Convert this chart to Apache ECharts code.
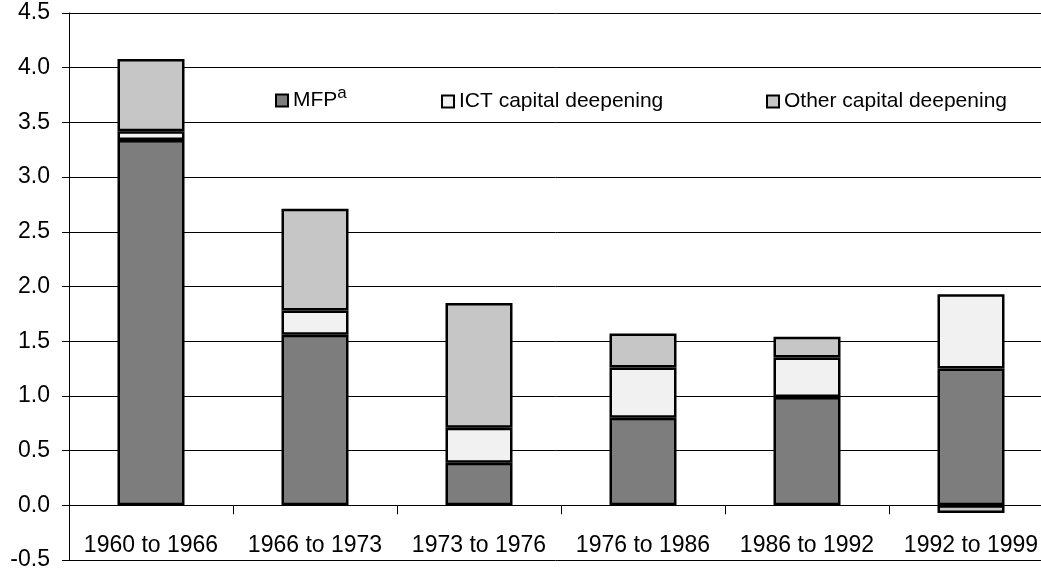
<!DOCTYPE html>
<html>
<head>
<meta charset="utf-8">
<script src="https://cdn.jsdelivr.net/npm/echarts@6/dist/echarts.min.js"></script>
<style>
  html, body { margin: 0; padding: 0; background: #fff; }
  #chart { width: 1041px; height: 571px; }
</style>
</head>
<body>
<div id="chart"></div>
<script>
// periods on the x axis
var periods = ["1960 to 1966", "1966 to 1973", "1973 to 1976", "1976 to 1986", "1986 to 1992", "1992 to 1999"];
// contributions
var mfp = [3.34, 1.56, 0.39, 0.80, 0.99, 1.25];
var ict = [0.08, 0.22, 0.32, 0.46, 0.36, 0.68];
var other = [0.66, 0.93, 1.14, 0.31, 0.19, -0.07];
// y axis
var yMin = -0.5, yMax = 4.5, yStep = 0.5;

var font = "'Liberation Sans', Arial, sans-serif";
var chart = echarts.init(document.getElementById("chart"));

function legendAt(left, top, name) {
  return {
    left: left,
    top: top,
    icon: "rect",
    itemWidth: 12,
    itemHeight: 12,
    itemGap: 5,
    data: [name],
    itemStyle: { borderColor: "#000", borderWidth: 2 },
    textStyle: { fontFamily: font, fontSize: 21, color: "#000",
      rich: {
        n: { fontFamily: font, fontSize: 21, color: "#000" },
        s: { fontFamily: font, fontSize: 17, color: "#000", padding: [0, 0, 14, 0] }
      }
    },
    formatter: function (nm) {
      return nm === "MFP" ? "{n|MFP}{s|a}" : nm;
    }
  };
}

var option = {
  animation: false,
  backgroundColor: "#fff",
  grid: { left: 69, top: 13, width: 984, height: 547, outerBoundsMode: "none" },
  legend: [
    legendAt(270, 80, "MFP"),
    legendAt(436, 86, "ICT capital deepening"),
    legendAt(761, 86, "Other capital deepening")
  ],
  xAxis: {
    type: "category",
    data: periods,
    axisLine: { onZero: true, lineStyle: { color: "#000", width: 1 } },
    axisTick: { show: true, length: 9, lineStyle: { color: "#000" } },
    // labels sit in the band under the zero line
    axisLabel: { fontFamily: font, fontSize: 23, color: "#000", margin: -26, interval: 0 }
  },
  yAxis: {
    type: "value",
    min: yMin,
    max: yMax,
    interval: yStep,
    axisLine: { show: true, lineStyle: { color: "#000", width: 1 } },
    axisTick: { show: true, length: 7, lineStyle: { color: "#000" } },
    axisLabel: {
      fontFamily: font, fontSize: 23, color: "#000", margin: 19,
      formatter: function (v) { return v.toFixed(1); }
    },
    splitLine: { show: true, lineStyle: { color: "#000", width: 1 } }
  },
  series: [
    {
      name: "MFP", type: "bar", stack: "a", barWidth: 67, data: mfp,
      itemStyle: { color: "#7d7d7d", borderColor: "#000", borderWidth: 2.5 }
    },
    {
      name: "ICT capital deepening", type: "bar", stack: "a", data: ict,
      itemStyle: { color: "#f1f1f1", borderColor: "#000", borderWidth: 2.5 }
    },
    {
      name: "Other capital deepening", type: "bar", stack: "a", data: other,
      itemStyle: { color: "#c6c6c6", borderColor: "#000", borderWidth: 2.5 }
    }
  ]
};
chart.setOption(option);
</script>
</body>
</html>
